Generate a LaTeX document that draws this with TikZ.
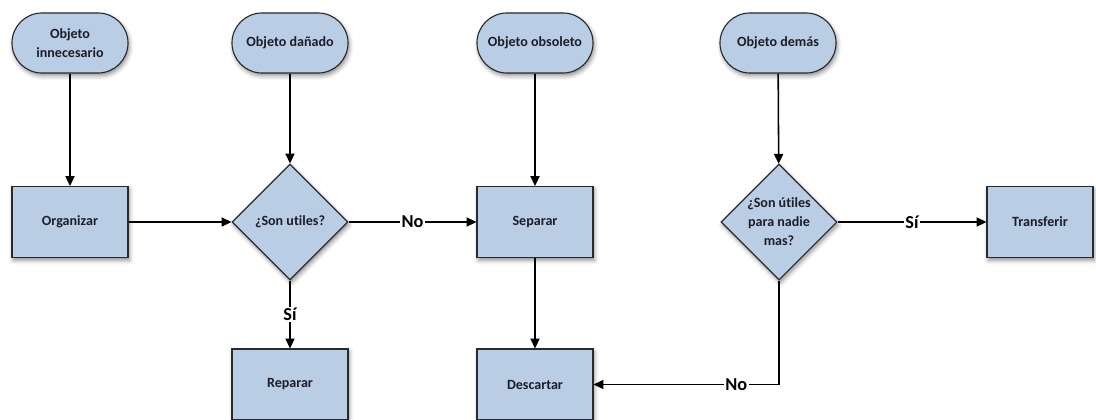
\documentclass[tikz,border=0pt]{standalone}
\usepackage{fontspec}
\setmainfont[Ligatures=NoCommon]{Carlito}
\usetikzlibrary{arrows.meta, shapes.geometric, shadows.blur}

\definecolor{boxfill}{HTML}{B9CDE5}
\definecolor{boxline}{HTML}{2A2A2A}
\definecolor{boxtext}{HTML}{1E1E28}

\begin{document}
\begin{tikzpicture}[
            x = 0.025cm, y = -0.025cm, % one unit is one pixel of the layout
            > = {Triangle[length=7pt, width=6.5pt]}, % arrow head style
            line width = 1.1pt, % line style
            font = \fontsize{10}{13.5}\selectfont\bfseries
        ]

        \tikzset{
            base/.style = {
                draw = boxline,
                line width = 0.8pt,
                fill = boxfill,
                text = boxtext,
                align = center,
                blur shadow = {shadow xshift=1pt, shadow yshift=-2pt,
                    shadow blur radius=3pt, shadow opacity=45}
            },
            terminal/.style = {base, rounded corners = 0.75cm,
                minimum width = 2.9cm, minimum height = 1.5cm, inner sep = 0pt},
            process/.style = {base, minimum width = 2.9cm, minimum height = 1.775cm},
            decision/.style = {base, diamond, aspect = 1, inner sep = 0pt,
                minimum size = 2.9cm},
            answer/.style = {fill = white, inner sep = 1pt,
                font = \fontsize{13}{15}\selectfont\bfseries}
        }

        \useasboundingbox (0,0) rectangle (1096,420);

        % starting points
        \node[terminal] (innec) at (70,43) {Objeto\\innecesario};
        \node[terminal] (danado) at (290,43) {Objeto dañado};
        \node[terminal] (obsol) at (535,43) {Objeto obsoleto};
        \node[terminal] (demas) at (778,43) {Objeto demás};

        % middle row
        \node[process] (organizar) at (70,222) {Organizar};
        \node[decision] (utiles) at (290,222) {¿Son utiles?};
        \node[process] (separar) at (535,222) {Separar};
        \node[decision] (nadie) at (779,222) {¿Son útiles\\para nadie\\mas?};
        \node[process, minimum width = 2.65cm] (transferir) at (1040,222) {Transferir};

        % bottom row
        \node[process] (reparar) at (290,384.5) {Reparar};
        \node[process] (descartar) at (535,384.5) {Descartar};

        \draw[->] (innec) -- (organizar);
        \draw[->] (organizar) -- (utiles);
        \draw[->] (danado) -- (utiles);
        \draw[->] (utiles) -- node[answer] {No} (separar);
        \draw[->] (utiles) -- node[answer] {Sí} (reparar);
        \draw[->] (obsol) -- (separar);
        \draw[->] (separar) -- (descartar);
        \draw[->] (demas) -- (nadie);
        \draw[->] (nadie) -- node[answer] {Sí} (transferir);
        \draw[->] (nadie) |- node[answer, pos=0.615] {No} (descartar);

  \end{tikzpicture}
\end{document}
